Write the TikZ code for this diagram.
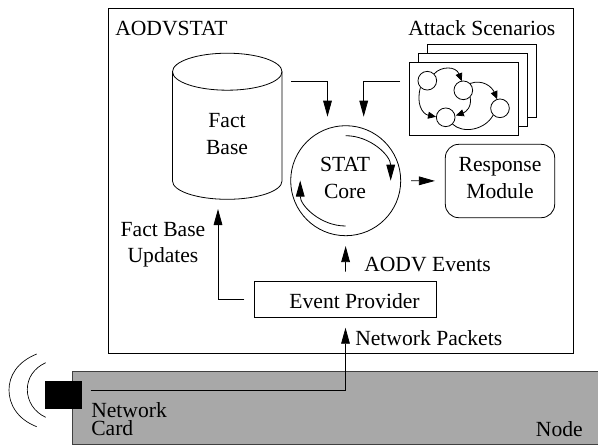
\documentclass[tikz,border=0pt]{standalone}
\usepackage{fontspec}
\setmainfont{Liberation Serif}
\usetikzlibrary{arrows.meta}
\tikzset{
  x=0.75pt,y=-0.75pt,
  lbl/.style={anchor=base,inner sep=0pt,font=\fontsize{16.2}{19}\selectfont},
  ln/.style={draw=black,line width=0.6pt},
  arr/.style={ln,-{Triangle[length=12pt,width=6.5pt]}},
  sarr/.style={ln,-{Triangle[length=6pt,width=5.2pt]}},
  boxed/.style={draw=black,fill=white,line width=0.6pt,inner sep=0pt},
  statenode/.style={circle,draw=black,fill=white,line width=0.6pt,minimum size=14pt,inner sep=0pt},
}
\begin{document}
\begin{tikzpicture}
\useasboundingbox (0,0) rectangle (598,446);
% outer box
\draw[ln] (108.7,8) rectangle (573,353.5);
% node body
\path[fill=black!34,draw=black!75,line width=0.6pt] (72.5,371.7) rectangle (598.5,444);
% antenna
\draw[line width=0.5pt] (36.7,354) .. controls (17,362) and (9,376) .. (9,390) .. controls (9,404) and (17,419) .. (36.7,426.7);
\draw[line width=0.5pt] (45.7,362.7) .. controls (34,368) and (27.3,378) .. (27.3,389.5) .. controls (27.3,401) and (34,412) .. (45.7,417.3);
\fill[black] (45,380.7) rectangle (82.3,408.7);
% cylinder
\draw[ln] (172.5,71.7) -- (172.5,181) arc[start angle=180,end angle=0,x radius=54.75,y radius=18.3] -- (282,71.7);
\draw[ln] (227.25,71.7) ellipse[x radius=54.75,y radius=18.5];
\node[lbl] (fact) at (227,127) {Fact};
\node[lbl] (base) at (227,154) {Base};
\coordinate (fbin) at (218,199);
\coordinate (fbout) at (291,81);
% core
\node[circle,draw=black,line width=0.6pt,minimum size=82.5pt,inner sep=0pt] (core) at (345.7,180.7) {};
\draw[arr] (345.7,135.7) arc[start angle=-90,end angle=0,radius=45];
\draw[arr] (345.7,226) arc[start angle=90,end angle=180,radius=45.5];
\node[lbl] (stat) at (345,171.7) {STAT};
\node[lbl] (coretxt) at (345,198.3) {Core};
% response
\node[draw=black,line width=0.6pt,rounded corners=10pt,minimum width=82pt,minimum height=55pt,inner sep=0pt] (resp) at (500,181) {};
\node[lbl] at (500,171.7) {Response};
\node[lbl] at (500,198.3) {Module};
% attack cards
\draw[boxed] (427,44.7) rectangle (536.7,117.3);
\draw[boxed] (418,53.3) rectangle (527.7,126.7);
\draw[boxed] (409,62.7) rectangle (518.3,135.7);
\coordinate (asout) at (400,81);
\node[statenode] (sa) at (427.3,80.7) {};
\node[statenode] (sb) at (463.3,90.3) {};
\node[statenode] (sc) at (500,108.3) {};
\node[statenode] (sd) at (445.7,117.3) {};
\draw[sarr] (sa.north east) .. controls (441,66) and (456,66) .. (461.7,81.2);
\draw[sarr] (sb.north east) .. controls (483,79) and (492,87) .. (497.2,99.2);
\draw[ln] (sc.south west) .. controls (485,130) and (463,134) .. (sd.south east);
\draw[sarr] (sb.south east) .. controls (472,107) and (466,112) .. (455.8,115.5);
\draw[sarr] (sa.south west) .. controls (416,103) and (422,114) .. (436,116.8);
% event provider
\node[draw=black,line width=0.6pt,minimum width=137pt,minimum height=27.2pt,inner sep=0pt] (ep) at (345.5,299.2) {};
\node[lbl] at (354.5,308.3) {Event Provider};
% labels
\node[lbl,anchor=base west] at (115,35.7) {AODVSTAT};
\node[lbl,anchor=base west] at (408,35) {Attack Scenarios};
\node[lbl] at (163,236) {Fact Base};
\node[lbl] at (163,262.7) {Updates};
\node[lbl,anchor=base west] at (364,271.7) {AODV Events};
\node[lbl,anchor=base west] at (355,345) {Network Packets};
\node[lbl,anchor=base west] at (91,417.7) {Network};
\node[lbl,anchor=base west] at (91,435.7) {Card};
\node[lbl,anchor=base east] at (583,436) {Node};
% connectors
\coordinate (nic) at (90.7,390);
\draw[arr,shorten >=7.5pt] (nic) -| (ep.south);
\draw[arr,shorten <=6.8pt,shorten >=7.5pt] (ep.north) -- (core.south);
\draw[arr,shorten <=7pt,shorten >=7.5pt] (ep.west) -| (fbin);
\draw[arr] (fbout) -| (327.5,116.7);
\draw[arr] (asout) -| (363.7,116.7);
\draw[arr,shorten <=7.5pt,shorten >=7.5pt] (core.east) -- (resp.west);
\end{tikzpicture}
\end{document}
